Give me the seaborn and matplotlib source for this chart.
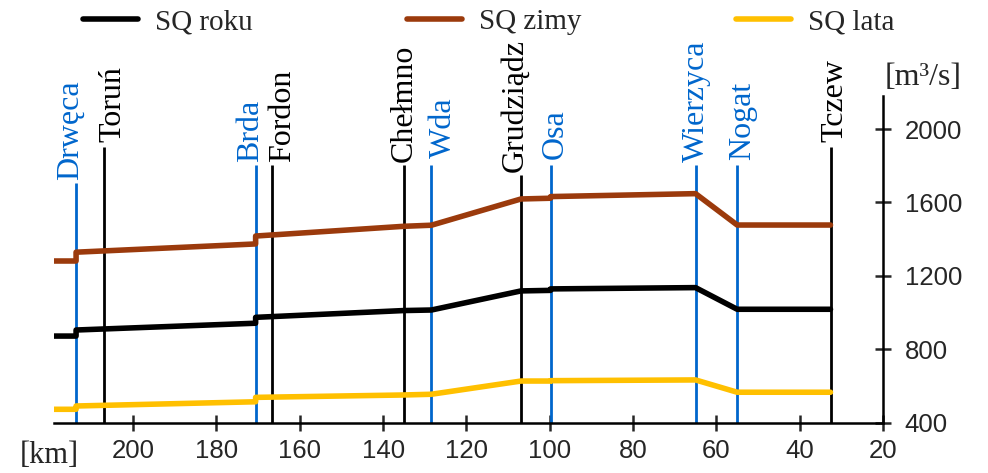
import matplotlib
matplotlib.use("Agg")
import matplotlib.pyplot as plt
import seaborn as sns
import pandas as pd

# ---- data ----
river_km = [219.0, 213.7, 213.7, 170.6, 170.6, 135.1, 128.4, 106.9, 99.8, 99.8, 65.0, 55.0, 32.6]
sq_roku = [872, 872, 905, 942, 974, 1011, 1014, 1118, 1121, 1129, 1136, 1018, 1018]
sq_zimy = [1281, 1281, 1329, 1374, 1417, 1470, 1476, 1619, 1623, 1632, 1648, 1477, 1477]
sq_lata = [473, 473, 491, 514, 538, 551, 555, 627, 627, 629, 633, 566, 566]
series_names = ["SQ roku", "SQ zimy", "SQ lata"]

city_names = ["Toruń", "Fordon", "Chełmno", "Grudziądz", "Tczew"]
city_km = [207.1, 166.7, 135.1, 106.9, 32.6]
city_top = [1904, 1804, 1804, 1749, 1904]

trib_names = ["Drwęca", "Brda", "Wda", "Osa", "Wierzyca", "Nogat"]
trib_km = [213.7, 170.6, 128.4, 99.8, 65.0, 55.0]
trib_top = [1706, 1804, 1804, 1804, 1804, 1804]

x_ticks = [200, 180, 160, 140, 120, 100, 80, 60, 40, 20]
y_ticks = [400, 800, 1200, 1600, 2000]

# ---- styling / layout ----
sns.set_style("white")
plt.rcParams["font.family"] = ["Liberation Sans", "DejaVu Sans"]
SERIF = ["Liberation Serif", "DejaVu Serif"]

colors = {"SQ roku": "#000000", "SQ zimy": "#9B3A0C", "SQ lata": "#FFC000"}
BLUE = "#0066CC"

# label placement in pixels: (baseline offset right of line, gap above line top)
city_off = {"Toruń": (17, 5), "Fordon": (18, 3), "Chełmno": (8, 3), "Grudziądz": (2, 3), "Tczew": (12, 5)}
trib_off = {"Drwęca": (2, 3), "Brda": (2, 3), "Wda": (19, 7), "Osa": (12.5, 6), "Wierzyca": (8, 3), "Nogat": (13, 5)}

W, H = 988, 473
fig = plt.figure(figsize=(W / 100, H / 100), dpi=100)
ax = fig.add_axes([54 / W, 1 - 422.7 / H, (883 - 54) / W, (422.7 - 96) / H])

# vertical marker lines
ax.vlines(city_km, 400, city_top, color="black", lw=2.0, zorder=2)
ax.vlines(trib_km, 400, trib_top, color=BLUE, lw=2.0, zorder=2)

# series
df = pd.DataFrame({
    "km": river_km * 3,
    "Q": sq_roku + sq_zimy + sq_lata,
    "series": sum([[n] * len(river_km) for n in series_names], []),
})
for name in series_names:
    sub = df[df["series"] == name]
    sns.lineplot(data=sub, x="km", y="Q", sort=False, estimator=None, color=colors[name],
                 lw=2.3, ax=ax, label=name, zorder=3)

px = 0.72
def put_labels(names, kms, tops, offs, col):
    for n, k, t in zip(names, kms, tops):
        dx, gap = offs[n]
        ax.annotate(n, xy=(k, t), xytext=(dx * px, gap * px), textcoords="offset points",
                    rotation=90, rotation_mode="anchor", ha="left", va="baseline",
                    fontsize=23, family=SERIF, color=col)

put_labels(city_names, city_km, city_top, city_off, "black")
put_labels(trib_names, trib_km, trib_top, trib_off, BLUE)

ax.set_xlim(219, 20)
ax.set_ylim(400, 2180)
ax.set_xticks(x_ticks)
ax.set_yticks(y_ticks)
ax.yaxis.tick_right()
ax.set_xlabel("")
ax.set_ylabel("")
for s in ["top", "left"]:
    ax.spines[s].set_visible(False)
for s in ["bottom", "right"]:
    ax.spines[s].set_visible(True)
    ax.spines[s].set_color("black")
    ax.spines[s].set_linewidth(1.8)
ax.tick_params(axis="x", direction="inout", length=11, width=1.8, labelsize=18.5, pad=6, bottom=True)
ax.tick_params(axis="y", direction="inout", length=11, width=1.8, labelsize=18.5, pad=10, right=True, left=False)

fig.text(885 / W, 1 - 77 / H, "[m³/s]", family=SERIF, fontsize=23, ha="left", va="center")
fig.text(20 / W, 1 - 455 / H, "[km]", family=SERIF, fontsize=22, ha="left", va="center")

handles, labels = ax.get_legend_handles_labels()
if ax.get_legend():
    ax.get_legend().remove()
for h in handles:
    h.set_linewidth(4)
fig.legend(handles, labels, ncol=3, loc="center left", bbox_to_anchor=(83 / W, 1 - 22 / H),
           frameon=False, prop={"family": SERIF, "size": 21}, handlelength=1.88,
           handletextpad=0.58, columnspacing=5.3, borderpad=0, borderaxespad=0)

fig.savefig("out.png", dpi=100)
